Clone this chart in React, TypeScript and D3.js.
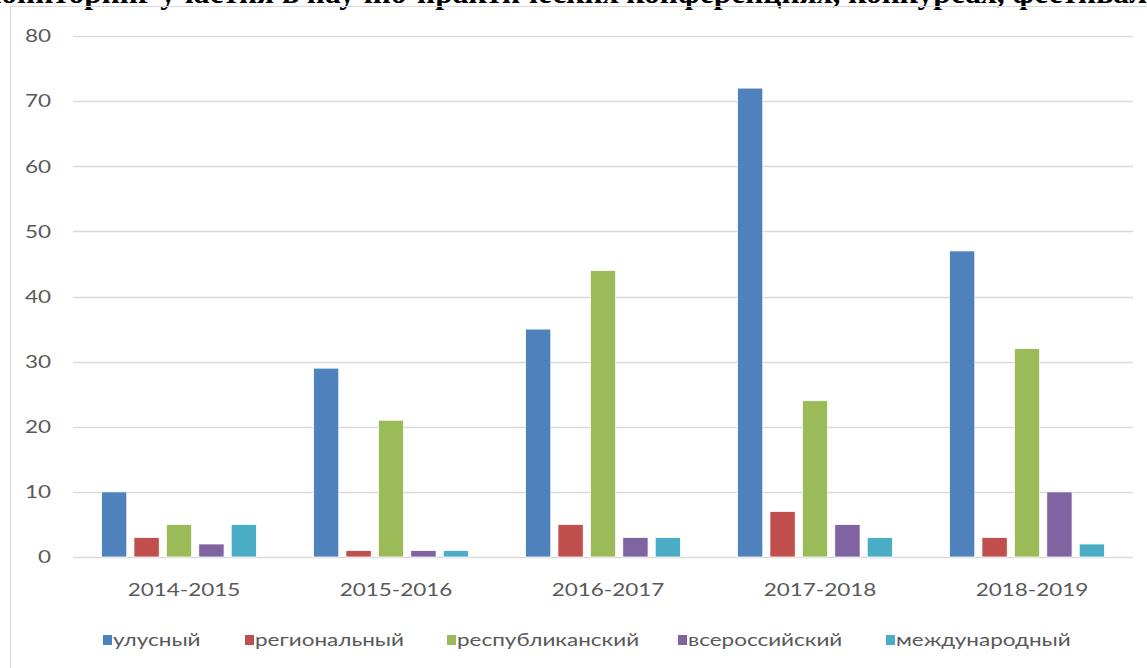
import React from "react";
import * as d3 from "d3";

const categories = ["2014-2015", "2015-2016", "2016-2017", "2017-2018", "2018-2019"];
const seriesNames = ["улусный", "региональный", "республиканский", "всероссийский", "международный"];
const seriesColors = ["#4F81BD", "#C0504D", "#9BBB59", "#8064A2", "#4BACC6"];
const ulusny = [10, 29, 35, 72, 47];
const regionalny = [3, 1, 5, 7, 3];
const respublikansky = [5, 21, 44, 24, 32];
const vserossiysky = [2, 1, 3, 5, 10];
const mezhdunarodny = [5, 1, 3, 3, 2];
const yTicks = [0, 10, 20, 30, 40, 50, 60, 70, 80];
const title = "Мониторинг участия в научно-практических конференциях, конкурсах, фестивалях";

const W = 1147;
const H = 668;
const SX = 1.25;

function WideText({ x, y, anchor, children }: { x: number; y: number; anchor: string; children: React.ReactNode }) {
  return (
    <text
      transform={`translate(${x},${y}) scale(${SX},1)`}
      dy="0.35em"
      textAnchor={anchor}
      fontSize={18}
      fill="#595959"
    >
      {children}
    </text>
  );
}

export default function App() {
  const series = [ulusny, regionalny, respublikansky, vserossiysky, mezhdunarodny];
  const x0 = d3.scaleBand<string>().domain(categories).range([73, 1133]).paddingInner(0).paddingOuter(0);
  const x1 = d3
    .scaleBand<string>()
    .domain(seriesNames)
    .range([28.5, x0.bandwidth() - 28.5])
    .paddingInner(0.22)
    .paddingOuter(0);
  const y = d3.scaleLinear().domain([0, 80]).range([557, 36]);
  const font = "Lato, 'Open Sans', sans-serif";
  const legendX = [103, 245, 447, 678, 886];

  return (
    <svg
      width={W}
      height={H}
      style={{ position: "absolute", left: 0, top: 0, background: "#fff" }}
      fontFamily={font}
    >
      <rect x={0} y={0} width={W} height={H} fill="#fff" />
      <text
        x={-28}
        y={3}
        fontFamily="'Liberation Serif', 'Times New Roman', serif"
        fontWeight="bold"
        fontSize={31.5}
        fill="#000"
      >
        {title}
      </text>
      <rect x={10.5} y={6.5} width={W} height={H} fill="none" stroke="#d9d9d9" strokeWidth={1} />
      {yTicks.map((t) => (
        <g key={t}>
          <line x1={73} x2={1133} y1={Math.round(y(t)) + 0.5} y2={Math.round(y(t)) + 0.5} stroke="#d9d9d9" strokeWidth={1.3} />
          <WideText x={51} y={y(t)} anchor="end">
            {t}
          </WideText>
        </g>
      ))}
      {categories.map((c, ci) => (
        <g key={c} transform={`translate(${x0(c)},0)`}>
          {series.map((s, si) => (
            <rect
              key={si}
              x={x1(seriesNames[si])}
              width={x1.bandwidth()}
              y={y(s[ci])}
              height={y(0) - y(s[ci])}
              fill={seriesColors[si]}
              stroke="#fff"
              strokeWidth={0.8}
            />
          ))}
          <WideText x={x0.bandwidth() / 2 + 5} y={590} anchor="middle">
            {c}
          </WideText>
        </g>
      ))}
      {seriesNames.map((n, i) => (
        <g key={n}>
          <rect x={legendX[i]} y={635} width={9} height={10} fill={seriesColors[i]} />
          <WideText x={legendX[i] + 10} y={640} anchor="start">
            {n}
          </WideText>
        </g>
      ))}
    </svg>
  );
}
